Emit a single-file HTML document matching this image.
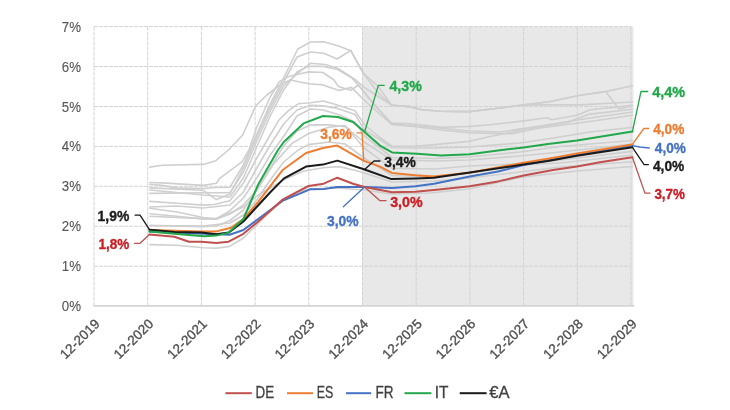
<!DOCTYPE html><html><head><meta charset="utf-8"><style>html,body{margin:0;padding:0;background:#fff}svg{display:block;filter:blur(0.35px)}text{font-family:"Liberation Sans",sans-serif}</style></head><body>
<svg width="730" height="410" viewBox="0 0 730 410">
<rect width="730" height="410" fill="#fff"/>
<rect x="362.5" y="26.6" width="271" height="279.5" fill="#e8e8e8"/>
<g stroke="#d3d3d3" stroke-width="1" stroke-dasharray="4,1"><line x1="94.0" y1="26.6" x2="94.0" y2="306" /><line x1="147.7" y1="26.6" x2="147.7" y2="306" /><line x1="201.4" y1="26.6" x2="201.4" y2="306" /><line x1="255.1" y1="26.6" x2="255.1" y2="306" /><line x1="308.8" y1="26.6" x2="308.8" y2="306" /><line x1="362.5" y1="26.6" x2="362.5" y2="306" /><line x1="416.2" y1="26.6" x2="416.2" y2="306" /><line x1="469.9" y1="26.6" x2="469.9" y2="306" /><line x1="523.6" y1="26.6" x2="523.6" y2="306" /><line x1="577.3" y1="26.6" x2="577.3" y2="306" /><line x1="631.0" y1="26.6" x2="631.0" y2="306" /><line x1="94" y1="266.2" x2="631" y2="266.2" /><line x1="94" y1="226.2" x2="631" y2="226.2" /><line x1="94" y1="186.3" x2="631" y2="186.3" /><line x1="94" y1="146.4" x2="631" y2="146.4" /><line x1="94" y1="106.5" x2="631" y2="106.5" /><line x1="94" y1="66.5" x2="631" y2="66.5" /><line x1="94" y1="26.6" x2="631" y2="26.6" /></g>
<line x1="93.5" y1="305.9" x2="634.5" y2="305.9" stroke="#d4d4d4" stroke-width="1.6"/>
<g fill="#575757" stroke="#575757" stroke-width="0.12" font-size="14.2"><text x="61.8" y="311.1" textLength="19.2" lengthAdjust="spacingAndGlyphs">0%</text><text x="61.8" y="271.2" textLength="19.2" lengthAdjust="spacingAndGlyphs">1%</text><text x="61.8" y="231.2" textLength="19.2" lengthAdjust="spacingAndGlyphs">2%</text><text x="61.8" y="191.3" textLength="19.2" lengthAdjust="spacingAndGlyphs">3%</text><text x="61.8" y="151.4" textLength="19.2" lengthAdjust="spacingAndGlyphs">4%</text><text x="61.8" y="111.5" textLength="19.2" lengthAdjust="spacingAndGlyphs">5%</text><text x="61.8" y="71.5" textLength="19.2" lengthAdjust="spacingAndGlyphs">6%</text><text x="61.8" y="31.6" textLength="19.2" lengthAdjust="spacingAndGlyphs">7%</text></g>
<g fill="#505050" stroke="#505050" stroke-width="0.35" font-size="13.5"><text transform="translate(100.5,324.7) rotate(-45)" text-anchor="end">12-2019</text><text transform="translate(154.2,324.7) rotate(-45)" text-anchor="end">12-2020</text><text transform="translate(207.9,324.7) rotate(-45)" text-anchor="end">12-2021</text><text transform="translate(261.6,324.7) rotate(-45)" text-anchor="end">12-2022</text><text transform="translate(315.3,324.7) rotate(-45)" text-anchor="end">12-2023</text><text transform="translate(369.0,324.7) rotate(-45)" text-anchor="end">12-2024</text><text transform="translate(422.7,324.7) rotate(-45)" text-anchor="end">12-2025</text><text transform="translate(476.4,324.7) rotate(-45)" text-anchor="end">12-2026</text><text transform="translate(530.1,324.7) rotate(-45)" text-anchor="end">12-2027</text><text transform="translate(583.8,324.7) rotate(-45)" text-anchor="end">12-2028</text><text transform="translate(637.5,324.7) rotate(-45)" text-anchor="end">12-2029</text></g>
<g><polyline points="149.9,184.2 162.2,185.4 177.0,187.9 203.2,188.5 216.4,187.5 230.0,187.2 243.4,165.0 256.8,134.0 270.2,104.0 283.6,78.0 297.8,49.0 310.5,42.0 323.7,41.7 338.5,45.9 350.8,50.8 363.1,73.0 377.9,86.0 391.8,105.3 409.7,106.6 422.0,109.7 440.5,111.3 469.5,111.6 500.0,108.0 524.0,104.9 549.3,101.8 580.0,95.3 605.6,91.6 632.4,85.8" fill="none" stroke="#cfcfcf" stroke-width="1.6" stroke-linejoin="round" stroke-linecap="round"/><polyline points="149.9,187.9 203.2,190.3 216.4,199.6 230.0,194.0 243.4,168.0 256.8,137.0 270.2,107.0 283.6,82.0 297.0,57.0 310.5,52.0 323.7,53.3 337.2,59.0 350.8,50.3 364.1,74.2 377.5,92.0 391.8,105.3 409.7,106.6 422.0,109.7 440.5,111.3 469.5,111.6 500.0,108.0 524.0,104.9 549.3,101.8 580.0,95.3 605.6,91.6 619.0,109.0 632.4,105.7" fill="none" stroke="#cfcfcf" stroke-width="1.6" stroke-linejoin="round" stroke-linecap="round"/><polyline points="149.9,193.4 203.2,192.8 230.0,192.8 243.4,172.0 256.8,141.0 270.2,111.0 283.6,86.0 300.8,70.7 310.5,63.3 325.4,64.5 337.7,68.2 355.0,79.3 363.1,86.6 377.5,96.0 391.8,105.3 409.7,106.6 422.0,109.7 440.5,111.3 469.5,111.6 500.0,108.0 524.0,104.9 580.0,104.9 632.4,102.0" fill="none" stroke="#cfcfcf" stroke-width="1.6" stroke-linejoin="round" stroke-linecap="round"/><polyline points="149.9,182.5 162.2,182.9 203.2,185.4 216.4,183.2 219.7,178.3 242.2,161.7 249.0,150.0 256.8,127.0 270.2,97.0 279.3,81.6 288.0,76.7 299.0,74.0 308.8,71.9 323.0,72.5 334.0,80.0 338.5,86.6 350.8,90.3 358.4,85.0 374.4,105.3 391.8,123.2 403.5,123.2 415.4,124.2 443.2,127.3 469.5,126.4 490.0,124.8 524.0,120.9 546.9,117.8 551.8,119.7 577.1,115.3 590.0,109.8 632.4,105.4" fill="none" stroke="#cfcfcf" stroke-width="1.6" stroke-linejoin="round" stroke-linecap="round"/><polyline points="149.9,167.1 162.2,165.3 203.2,164.4 215.8,160.7 228.5,150.0 242.7,135.0 255.8,105.7 267.0,95.0 278.9,85.5 290.0,80.0 308.8,83.7 323.0,84.9 339.0,90.5 351.3,87.4 364.1,100.0 377.5,112.0 391.8,124.5 415.4,126.6 443.2,130.3 469.0,132.8 490.0,133.4 512.3,133.8 540.0,128.0 590.0,121.5 632.4,115.3" fill="none" stroke="#cfcfcf" stroke-width="1.6" stroke-linejoin="round" stroke-linecap="round"/><polyline points="149.9,201.4 177.0,203.3 203.2,205.1 214.0,204.5 230.0,200.8 243.4,183.0 256.8,158.0 270.2,135.0 278.7,120.3 288.5,110.6 298.2,103.8 310.5,102.8 323.0,101.0 334.0,104.0 355.0,110.8 364.7,125.0 380.7,138.0 391.9,146.1 415.4,146.4 469.0,141.4 490.0,136.5 512.3,132.0 524.0,129.5 569.0,122.1 577.1,118.4 590.0,114.1 632.4,109.3" fill="none" stroke="#cfcfcf" stroke-width="1.6" stroke-linejoin="round" stroke-linecap="round"/><polyline points="149.9,207.0 177.0,206.0 203.2,208.0 230.0,205.0 243.4,192.0 256.8,168.0 270.2,145.0 283.6,124.0 297.0,110.0 310.5,105.3 323.0,105.9 337.7,108.4 355.0,114.5 364.7,130.0 380.7,140.0 391.9,147.8 435.0,148.0 469.0,147.0 520.0,143.0 551.8,138.2 590.0,132.0 632.4,127.4" fill="none" stroke="#cfcfcf" stroke-width="1.6" stroke-linejoin="round" stroke-linecap="round"/><polyline points="149.9,208.2 177.0,212.0 203.2,217.5 216.4,218.7 230.0,210.7 243.4,198.0 256.8,178.0 270.2,155.0 284.6,135.0 297.0,116.0 310.5,109.0 323.0,110.0 340.0,115.0 355.0,122.0 364.7,136.0 391.9,157.5 435.0,158.5 469.0,157.0 520.0,152.0 560.0,146.5 632.4,140.5" fill="none" stroke="#cfcfcf" stroke-width="1.6" stroke-linejoin="round" stroke-linecap="round"/><polyline points="149.9,213.8 177.0,216.2 203.2,219.0 216.4,219.3 230.0,214.0 243.4,205.0 256.8,190.0 270.2,168.0 283.6,146.0 297.0,131.0 310.5,124.9 329.0,124.9 345.0,126.7 364.1,142.0 391.9,159.8 435.0,161.0 469.0,160.0 520.0,156.0 560.0,152.0 632.4,144.0" fill="none" stroke="#cfcfcf" stroke-width="1.6" stroke-linejoin="round" stroke-linecap="round"/><polyline points="149.9,225.5 203.2,226.7 216.4,226.0 230.0,220.5 243.4,210.0 256.8,190.0 273.5,164.3 292.0,143.4 308.6,133.5 329.0,127.3 345.0,125.5 364.1,148.0 391.9,168.3 435.0,169.0 469.0,166.0 520.0,164.0 560.0,160.0 632.4,151.4" fill="none" stroke="#cfcfcf" stroke-width="1.6" stroke-linejoin="round" stroke-linecap="round"/><polyline points="149.9,244.6 177.0,245.2 203.2,247.7 216.4,248.2 229.6,246.4 243.4,238.0 256.8,225.0 270.2,212.0 283.6,200.0 297.0,192.0 310.5,189.0 337.0,188.0 364.0,190.0 391.0,194.0 430.0,193.0 469.0,189.0 521.6,177.1 577.0,171.0 632.4,166.5" fill="none" stroke="#cfcfcf" stroke-width="1.6" stroke-linejoin="round" stroke-linecap="round"/><polyline points="149.9,216.2 203.2,218.6 216.4,218.6 230.0,213.0 243.4,207.0 256.8,196.0 270.2,188.0 283.6,180.0 302.0,171.5 323.0,167.8 339.0,166.6 355.0,170.3 364.1,173.0 391.9,182.0 435.0,181.0 469.0,178.0 520.0,172.0 560.0,167.0 632.4,161.8" fill="none" stroke="#cfcfcf" stroke-width="1.6" stroke-linejoin="round" stroke-linecap="round"/><polyline points="149.9,225.5 203.2,226.0 230.0,223.0 243.4,215.0 256.8,200.0 270.2,180.0 283.6,162.0 298.2,150.0 308.6,144.6 329.0,142.0 345.0,144.0 364.1,158.0 391.9,175.5 435.0,177.0 469.0,173.0 520.0,165.0 560.0,163.0 632.4,155.0" fill="none" stroke="#cfcfcf" stroke-width="1.6" stroke-linejoin="round" stroke-linecap="round"/><polyline points="149.9,190.0 203.2,195.0 230.0,197.0 243.4,178.0 256.8,147.0 270.2,116.0 283.6,90.0 297.0,72.0 308.2,66.4 323.0,66.4 337.7,69.5 352.0,78.0 364.1,92.0 377.5,108.0 391.8,124.0 430.0,127.0 469.0,131.0 500.0,132.0 540.0,126.0 590.0,118.0 632.4,112.0" fill="none" stroke="#cfcfcf" stroke-width="1.6" stroke-linejoin="round" stroke-linecap="round"/></g>
<polyline points="149.5,231.4 216.3,234.3 229.6,234.7 243.4,230.0 258.2,219.0 283.0,200.5 310.0,189.3 323.7,189.0 337.3,187.0 364.6,187.0 392.0,188.0 415.5,186.3 434.0,183.8 469.7,176.5 498.0,171.5 523.6,165.0 577.0,155.0 632.4,145.6" fill="none" stroke="#4472c4" stroke-width="2.0" stroke-linejoin="round" stroke-linecap="round"/>
<polyline points="149.5,234.6 174.4,236.8 189.0,241.7 201.5,241.7 216.3,243.0 228.6,241.7 243.4,233.8 258.2,221.5 283.0,199.3 308.5,186.0 323.7,183.7 337.3,177.7 353.0,183.8 364.6,187.0 392.0,192.2 415.5,191.7 441.4,189.3 469.7,186.3 498.0,181.4 523.6,175.5 553.0,170.0 577.0,166.4 600.0,162.3 632.4,157.2" fill="none" stroke="#c0504d" stroke-width="2.0" stroke-linejoin="round" stroke-linecap="round"/>
<polyline points="149.5,230.0 201.5,231.4 216.3,231.4 231.0,227.7 243.4,219.0 258.2,201.8 283.0,169.7 306.0,153.0 323.0,148.0 337.3,145.6 363.5,160.6 380.0,166.6 392.0,172.9 415.5,175.2 434.0,176.4 469.7,172.7 523.6,162.7 548.0,158.7 577.0,153.5 632.4,144.4" fill="none" stroke="#ed7d31" stroke-width="2.0" stroke-linejoin="round" stroke-linecap="round"/>
<polyline points="149.5,229.7 174.4,232.0 201.5,232.6 216.3,234.3 228.6,232.6 243.4,221.5 255.7,208.0 270.5,192.0 284.0,178.4 306.0,166.6 323.0,164.6 337.3,160.6 364.6,169.5 390.8,178.9 415.5,178.4 434.0,177.7 469.7,172.5 523.6,164.6 548.0,161.0 577.0,155.7 632.4,147.3" fill="none" stroke="#1a1a1a" stroke-width="2.0" stroke-linejoin="round" stroke-linecap="round"/>
<polyline points="149.5,231.4 174.4,233.8 204.0,236.3 216.3,235.6 228.6,232.6 243.4,219.0 258.2,184.5 278.0,150.0 283.8,142.0 303.5,123.4 323.0,116.0 338.0,117.0 353.0,122.0 364.6,132.0 380.0,145.6 392.0,152.4 416.7,153.7 441.4,155.5 469.7,154.2 498.0,150.5 523.6,147.4 548.0,144.0 577.0,140.4 632.4,131.6" fill="none" stroke="#22a84a" stroke-width="2.0" stroke-linejoin="round" stroke-linecap="round"/>
<polyline points="135.1,215.2 140.0,215.2 149.5,229.7" fill="none" stroke="#1a1a1a" stroke-width="1.3" stroke-linejoin="round" stroke-linecap="round"/>
<text x="97.6" y="221.3" fill="#1a1a1a" font-size="15" font-weight="bold" stroke="#1a1a1a" stroke-width="0.35" textLength="31.7" lengthAdjust="spacingAndGlyphs">1,9%</text>
<polyline points="134.5,243.3 140.0,243.3 149.5,234.6" fill="none" stroke="#c0504d" stroke-width="1.3" stroke-linejoin="round" stroke-linecap="round"/>
<text x="98.5" y="248.8" fill="#c81e24" font-size="15" font-weight="bold" stroke="#c81e24" stroke-width="0.35" textLength="30.8" lengthAdjust="spacingAndGlyphs">1,8%</text>
<polyline points="384.2,85.4 378.3,85.4 364.6,132.0" fill="none" stroke="#22a84a" stroke-width="1.3" stroke-linejoin="round" stroke-linecap="round"/>
<text x="389.4" y="91.3" fill="#22a84a" font-size="15" font-weight="bold" stroke="#22a84a" stroke-width="0.35" textLength="32.4" lengthAdjust="spacingAndGlyphs">4,3%</text>
<polyline points="357.0,132.8 362.0,132.8 363.8,161.0" fill="none" stroke="#ed7d31" stroke-width="1.3" stroke-linejoin="round" stroke-linecap="round"/>
<text x="320.2" y="138.8" fill="#ed7d31" font-size="15" font-weight="bold" stroke="#ed7d31" stroke-width="0.35" textLength="31.6" lengthAdjust="spacingAndGlyphs">3,6%</text>
<polyline points="380.0,161.0 374.0,161.0 364.6,169.5" fill="none" stroke="#1a1a1a" stroke-width="1.3" stroke-linejoin="round" stroke-linecap="round"/>
<text x="384.2" y="167" fill="#1a1a1a" font-size="15" font-weight="bold" stroke="#1a1a1a" stroke-width="0.35" textLength="31.6" lengthAdjust="spacingAndGlyphs">3,4%</text>
<polyline points="386.0,200.7 380.0,200.7 364.6,187.0" fill="none" stroke="#c0504d" stroke-width="1.3" stroke-linejoin="round" stroke-linecap="round"/>
<text x="390.2" y="206.7" fill="#c81e24" font-size="15" font-weight="bold" stroke="#c81e24" stroke-width="0.35" textLength="32.4" lengthAdjust="spacingAndGlyphs">3,0%</text>
<polyline points="343.3,206.7 364.6,187.0" fill="none" stroke="#4472c4" stroke-width="1.3" stroke-linejoin="round" stroke-linecap="round"/>
<text x="327" y="225.5" fill="#4472c4" font-size="15" font-weight="bold" stroke="#4472c4" stroke-width="0.35" textLength="31.6" lengthAdjust="spacingAndGlyphs">3,0%</text>
<polyline points="647.8,91.5 641.0,91.5 632.4,131.6" fill="none" stroke="#22a84a" stroke-width="1.3" stroke-linejoin="round" stroke-linecap="round"/>
<text x="652.3" y="97.3" fill="#22a84a" font-size="15" font-weight="bold" stroke="#22a84a" stroke-width="0.35" textLength="32.9" lengthAdjust="spacingAndGlyphs">4,4%</text>
<polyline points="648.7,128.5 643.8,128.5 632.4,144.4" fill="none" stroke="#ed7d31" stroke-width="1.3" stroke-linejoin="round" stroke-linecap="round"/>
<text x="653.2" y="133.8" fill="#ed7d31" font-size="15" font-weight="bold" stroke="#ed7d31" stroke-width="0.35" textLength="31.2" lengthAdjust="spacingAndGlyphs">4,0%</text>
<polyline points="632.4,145.6 640.0,147.0 649.3,148.0" fill="none" stroke="#4472c4" stroke-width="1.3" stroke-linejoin="round" stroke-linecap="round"/>
<text x="654.8" y="153.3" fill="#4472c4" font-size="15" font-weight="bold" stroke="#4472c4" stroke-width="0.35" textLength="31.1" lengthAdjust="spacingAndGlyphs">4,0%</text>
<polyline points="632.4,147.3 644.1,164.6 648.5,164.6" fill="none" stroke="#1a1a1a" stroke-width="1.3" stroke-linejoin="round" stroke-linecap="round"/>
<text x="652.9" y="170.5" fill="#1a1a1a" font-size="15" font-weight="bold" stroke="#1a1a1a" stroke-width="0.35" textLength="31.4" lengthAdjust="spacingAndGlyphs">4,0%</text>
<polyline points="632.4,157.2 644.9,193.1 650.0,193.1" fill="none" stroke="#c0504d" stroke-width="1.3" stroke-linejoin="round" stroke-linecap="round"/>
<text x="654.4" y="199" fill="#c81e24" font-size="15" font-weight="bold" stroke="#c81e24" stroke-width="0.35" textLength="30.6" lengthAdjust="spacingAndGlyphs">3,7%</text>
<line x1="225.4" y1="393.2" x2="251.8" y2="393.2" stroke="#c0504d" stroke-width="2"/>
<text x="255.6" y="398" fill="#404040" stroke="#404040" stroke-width="0.3" font-size="16.5" textLength="18.6" lengthAdjust="spacingAndGlyphs">DE</text>
<line x1="287" y1="393.2" x2="313" y2="393.2" stroke="#ed7d31" stroke-width="2"/>
<text x="316.8" y="398" fill="#404040" stroke="#404040" stroke-width="0.3" font-size="16.5" textLength="16.5" lengthAdjust="spacingAndGlyphs">ES</text>
<line x1="345.9" y1="393.2" x2="371.1" y2="393.2" stroke="#4472c4" stroke-width="2"/>
<text x="375.5" y="398" fill="#404040" stroke="#404040" stroke-width="0.3" font-size="16.5" textLength="18.1" lengthAdjust="spacingAndGlyphs">FR</text>
<line x1="404.5" y1="393.2" x2="431.4" y2="393.2" stroke="#22a84a" stroke-width="2"/>
<text x="434.7" y="398" fill="#404040" stroke="#404040" stroke-width="0.3" font-size="16.5" textLength="13.7" lengthAdjust="spacingAndGlyphs">IT</text>
<line x1="459.7" y1="393.2" x2="486.6" y2="393.2" stroke="#1a1a1a" stroke-width="2"/>
<text x="489.3" y="398" fill="#404040" stroke="#404040" stroke-width="0.3" font-size="16.5" textLength="20.3" lengthAdjust="spacingAndGlyphs">€A</text>
</svg></body></html>
